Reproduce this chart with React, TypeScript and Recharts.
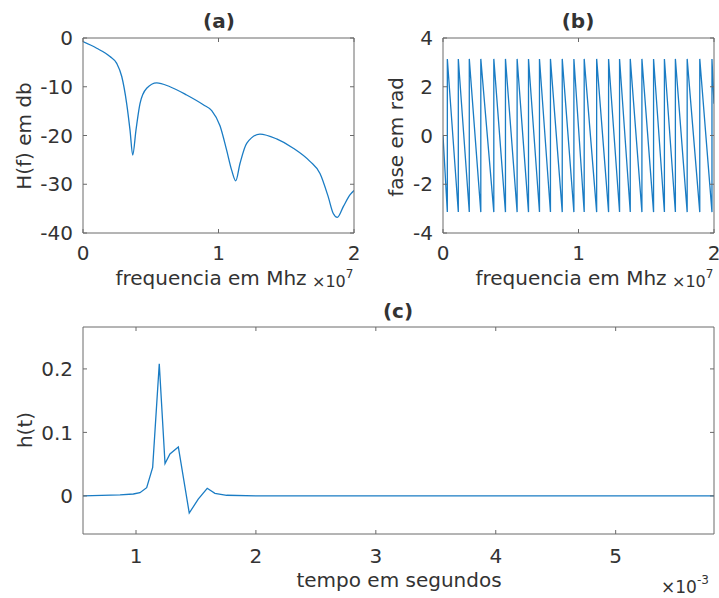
import React from 'react';
import { LineChart, Line, XAxis, YAxis } from 'recharts';

// (a) magnitude, frequency in units of 1e7 Hz
const magFreq = [0, 0.101, 0.199, 0.249, 0.286, 0.322, 0.347, 0.367, 0.391, 0.421, 0.47, 0.544, 0.642, 0.765, 0.888, 0.95, 1.011, 1.06, 1.097, 1.127, 1.159, 1.208, 1.306, 1.429, 1.552, 1.675, 1.749, 1.81, 1.847, 1.877, 1.921, 1.97, 2.0];
const magDb = [-0.75, -2.1, -3.8, -5.2, -7.9, -13.4, -18.9, -24.0, -18.9, -13.4, -10.3, -9.2, -10, -11.7, -13.7, -14.9, -18.0, -23, -27.1, -29.3, -25.7, -21.6, -19.7, -20.7, -22.6, -25.3, -27.8, -32.6, -36, -36.8, -34.6, -32.2, -31.3];

// (b) wrapped phase: frequencies where it jumps from -pi back to +pi
const phaseJumps = [0.032, 0.113, 0.194, 0.279, 0.375, 0.461, 0.547, 0.631, 0.712, 0.793, 0.88, 0.966, 1.042, 1.134, 1.222, 1.303, 1.382, 1.468, 1.554, 1.634, 1.715, 1.802, 1.895, 1.985];
const phaseStart = 0;
const phaseEnd = 1.3;
const PI = 3.1416;

// (c) impulse response, time in units of 1e-3 s
const timeMs = [0.558, 0.867, 0.978, 1.033, 1.089, 1.139, 1.194, 1.242, 1.283, 1.353, 1.444, 1.519, 1.594, 1.658, 1.756, 2.0, 3.0, 4.0, 5.0, 5.82];
const impulse = [0, 0.0015, 0.003, 0.005, 0.013, 0.045, 0.208, 0.051, 0.066, 0.077, -0.027, -0.005, 0.012, 0.004, 0.001, 0, 0, 0, 0, 0];

const freqTicks = [0, 1, 2];
const magTicks = [-40, -30, -20, -10, 0];
const phaseTicks = [-4, -2, 0, 2, 4];
const timeTicks = [1, 2, 3, 4, 5];
const impulseTicks = [0, 0.1, 0.2];

const magData = magFreq.map((f, i) => ({ f, v: magDb[i] }));
const phaseData = [
  { f: 0, v: phaseStart },
  ...phaseJumps.flatMap((f) => [{ f, v: -PI }, { f, v: PI }]),
  { f: 2, v: phaseEnd },
];
const impulseData = timeMs.map((t, i) => ({ f: t, v: impulse[i] }));

const BLUE = '#1a7cc4';
const AXIS = '#6a6a6a';
const TEXT = '#333333';
const FONT = 'DejaVu Sans, sans-serif';
const tickStyle = { fill: TEXT, fontSize: 20, fontFamily: FONT };
const none = () => '';

function Panel({ data, xDomain, xTicks, yDomain, yTicks, width, height, margin, xMargin, yFmt, curve }: any) {
  return (
    <LineChart width={width} height={height} data={data} margin={margin}>
      <XAxis xAxisId="b" type="number" dataKey="f" domain={xDomain} ticks={xTicks} allowDataOverflow
        orientation="bottom" height={40} tickSize={-4} tickMargin={xMargin}
        stroke={AXIS} tick={tickStyle} />
      <XAxis xAxisId="t" type="number" dataKey="f" domain={xDomain} ticks={xTicks} allowDataOverflow
        orientation="top" height={1} tickSize={-4} tickFormatter={none} stroke={AXIS} />
      <YAxis yAxisId="l" type="number" domain={yDomain} ticks={yTicks} allowDataOverflow
        width={60} tickSize={-4} tickMargin={14} stroke={AXIS} tick={tickStyle} tickFormatter={yFmt} />
      <YAxis yAxisId="r" orientation="right" type="number" domain={yDomain} ticks={yTicks} allowDataOverflow
        width={1} tickSize={-4} tickFormatter={none} stroke={AXIS} />
      <Line xAxisId="t" yAxisId="r" dataKey="v" stroke="none" dot={false} isAnimationActive={false} />
      <Line xAxisId="b" yAxisId="l" dataKey="v" type={curve || 'linear'} stroke={BLUE} strokeWidth={1.3}
        dot={false} isAnimationActive={false} />
    </LineChart>
  );
}

export default function App() {
  const t = { fill: TEXT, fontFamily: FONT } as any;
  return (
    <div style={{ position: 'absolute', left: 0, top: 0, width: 719, height: 598, background: '#fff' }}>
      <div style={{ position: 'absolute', left: 0, top: 0 }}>
        <Panel data={magData} xDomain={[0, 2]} xTicks={freqTicks} yDomain={[-40, 0]} yTicks={magTicks}
          width={360} height={300} margin={{ top: 37, left: 23, right: 5, bottom: 27 }} xMargin={17} curve="monotone" />
      </div>
      <div style={{ position: 'absolute', left: 360, top: 0 }}>
        <Panel data={phaseData} xDomain={[0, 2]} xTicks={freqTicks} yDomain={[-4, 4]} yTicks={phaseTicks}
          width={359} height={300} margin={{ top: 37, left: 23, right: 4, bottom: 27 }} xMargin={17} />
      </div>
      <div style={{ position: 'absolute', left: 0, top: 290 }}>
        <Panel data={impulseData} xDomain={[0.558, 5.82]} xTicks={timeTicks} yDomain={[-0.06, 0.266]} yTicks={impulseTicks}
          width={719} height={308} margin={{ top: 36, left: 23, right: 4, bottom: 24 }} xMargin={19}
          yFmt={(v: number) => String(v)} />
      </div>
      <svg width={719} height={598} style={{ position: 'absolute', left: 0, top: 0, pointerEvents: 'none' }}>
        <text {...t} x={219} y={28} fontSize={20} fontWeight="bold" textAnchor="middle">(a)</text>
        <text {...t} x={578} y={28} fontSize={20} fontWeight="bold" textAnchor="middle">(b)</text>
        <text {...t} x={398} y={318} fontSize={20} fontWeight="bold" textAnchor="middle">(c)</text>
        <text {...t} fontSize={20} textAnchor="middle" transform="translate(31,136) rotate(-90)">H(f) em db</text>
        <text {...t} fontSize={20} textAnchor="middle" transform="translate(403,137) rotate(-90)">fase em rad</text>
        <text {...t} fontSize={20} textAnchor="middle" transform="translate(32,430) rotate(-90)">h(t)</text>
        <text {...t} x={211} y={285} fontSize={20} textAnchor="middle">frequencia em Mhz</text>
        <text {...t} x={571} y={285} fontSize={20} textAnchor="middle">frequencia em Mhz</text>
        <text {...t} x={399} y={587} fontSize={20} textAnchor="middle">tempo em segundos</text>
        <text {...t} x={312} y={287} fontSize={16}>×10<tspan fontSize={12} dy={-9}>7</tspan></text>
        <text {...t} x={672} y={287} fontSize={16}>×10<tspan fontSize={12} dy={-9}>7</tspan></text>
        <text {...t} x={661} y={593} fontSize={17}>×10<tspan fontSize={12} dy={-9}>-3</tspan></text>
      </svg>
    </div>
  );
}
